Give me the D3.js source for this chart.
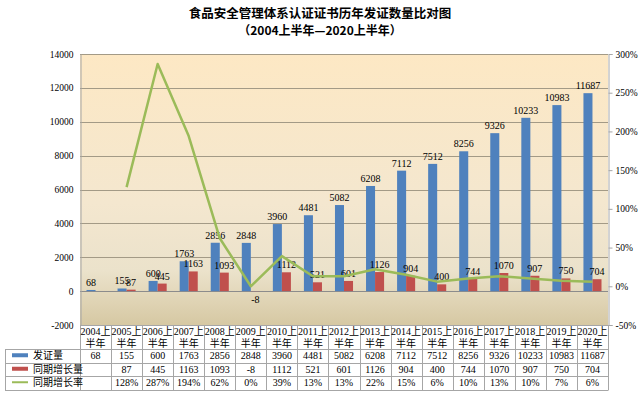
<!DOCTYPE html>
<html>
<head>
<meta charset="utf-8">
<script src="https://cdn.jsdelivr.net/npm/d3@7"></script>
<style>
 body { margin: 0; background: #fff; }
 text { font-family: "Liberation Serif", "Noto Sans CJK SC", serif; fill: #000; }
 .cjk { font-family: "Noto Sans CJK SC", sans-serif; }
</style>
</head>
<body>
<div id="chart"></div>
<script>
const years = ["2004", "2005", "2006", "2007", "2008", "2009", "2010", "2011", "2012",
 "2013", "2014", "2015", "2016", "2017", "2018", "2019", "2020"];
const issued = [68, 155, 600, 1763, 2856, 2848, 3960, 4481, 5082, 6208, 7112, 7512,
 8256, 9326, 10233, 10983, 11687];
const growth = [null, 87, 445, 1163, 1093, -8, 1112, 521, 601, 1126, 904, 400, 744,
 1070, 907, 750, 704];
const growthRate = [null, 128, 287, 194, 62, 0, 39, 13, 13, 22, 15, 6, 10, 13, 10, 7, 6];
const leftTicks = [-2000, 0, 2000, 4000, 6000, 8000, 10000, 12000, 14000];
const rightTicks = [-50, 0, 50, 100, 150, 200, 250, 300];
const seriesNames = ["发证量", "同期增长量", "同期增长率"];

(function () {
 const width = 640;
 const height = 394;
 const plot = { left: 80, right: 608, top: 54, bottom: 325 };
 const colors = ["#4f81bd", "#c0504d", "#9bbb59"];

 const svg = d3
  .select("#chart")
  .append("svg")
  .attr("width", width)
  .attr("height", height);

 // nền vùng vẽ (gradient kiểu giấy da)
 const grad = svg
  .append("defs")
  .append("linearGradient")
  .attr("id", "bg")
  .attr("x1", "0%").attr("x2", "0%")
  .attr("y1", "0%").attr("y2", "100%");
 [["0%", "#fde8c4"], ["55%", "#f4e7cf"], ["80%", "#ebe2cb"], ["88%", "#e3d8bb"], ["100%", "#d6c8a3"]]
  .forEach(([o, c]) => grad.append("stop").attr("offset", o).attr("stop-color", c));

 svg
  .append("rect")
  .attr("x", plot.left)
  .attr("y", plot.top)
  .attr("width", plot.right - plot.left)
  .attr("height", plot.bottom - plot.top)
  .attr("fill", "url(#bg)");

 const x = d3.scaleBand().domain(years).range([plot.left, plot.right]).padding(0);
 const xSub = d3
  .scaleBand()
  .domain([0, 1])
  .range([0, x.bandwidth()])
  .paddingInner(0)
  .paddingOuter(0.72);
 const y = d3.scaleLinear().domain([-2000, 14000]).range([plot.bottom, plot.top]);
 const y2 = d3.scaleLinear().domain([-50, 300]).range([plot.bottom, plot.top]);

 // lưới
 svg
  .append("g")
  .selectAll("line")
  .data(leftTicks.filter((t) => t > -2000))
  .enter()
  .append("line")
  .attr("x1", plot.left)
  .attr("x2", plot.right)
  .attr("y1", (d) => Math.round(y(d)) + 0.5)
  .attr("y2", (d) => Math.round(y(d)) + 0.5)
  .attr("stroke", (d) => (d === 0 ? "#8c8c8c" : "#a39a86"))
  .attr("stroke-width", 1);

 // trục trái
 const yAxis = svg
  .append("g")
  .attr("transform", `translate(${plot.left + 0.5},0)`)
  .call(
   d3.axisLeft(y).tickValues(leftTicks).tickSize(0).tickPadding(7).tickFormat((d) => String(d))
  );
 yAxis.select(".domain").attr("stroke", "#a6a6a6");
 yAxis.selectAll("text").style("font-size", "9.5px").attr("fill", "#000");

 // trục phải
 const y2Axis = svg
  .append("g")
  .attr("transform", `translate(${plot.right + 0.5},0)`)
  .call(
   d3.axisRight(y2).tickValues(rightTicks).tickSize(4).tickPadding(3).tickFormat((d) => String(d) + "%")
  );
 y2Axis.select(".domain").attr("stroke", "#a6a6a6");
 y2Axis.selectAll(".tick line").attr("stroke", "#a6a6a6");
 y2Axis.selectAll("text").style("font-size", "9.5px").attr("fill", "#000");

 // cột
 const barData = [issued, growth];
 barData.forEach((vals, si) => {
  const g = svg.append("g");
  const items = years.map((c, i) => ({ c, v: vals[i] })).filter((d) => d.v !== null);
  g.selectAll("rect")
   .data(items)
   .enter()
   .append("rect")
   .attr("x", (d) => x(d.c) + xSub(si))
   .attr("width", xSub.bandwidth())
   .attr("y", (d) => Math.min(y(d.v), y(0)))
   .attr("height", (d) => Math.abs(y(d.v) - y(0)))
   .attr("fill", colors[si]);
  g.selectAll("text")
   .data(items)
   .enter()
   .append("text")
   .attr("x", (d) => x(d.c) + xSub(si) + xSub.bandwidth() / 2)
   .attr("y", (d) => (d.v >= 0 ? y(d.v) - 4 : y(d.v) + 12))
   .attr("text-anchor", "middle")
   .style("font-size", "10px")
   .text((d) => d.v);
 });

 // đường tỷ lệ tăng trưởng
 const lineData = years.map((c, i) => ({ c, v: growthRate[i] })).filter((d) => d.v !== null);
 svg
  .append("path")
  .datum(lineData)
  .attr("fill", "none")
  .attr("stroke", colors[2])
  .attr("stroke-width", 2.5)
  .attr("stroke-linejoin", "round")
  .attr(
   "d",
   d3
    .line()
    .x((d) => x(d.c) + x.bandwidth() / 2)
    .y((d) => y2(d.v))
  );

 // tiêu đề
 svg
  .append("text")
  .attr("class", "cjk")
  .attr("x", width / 2)
  .attr("y", 18)
  .attr("text-anchor", "middle")
  .style("font-size", "12.5px")
  .style("font-weight", "bold")
  .text("食品安全管理体系认证证书历年发证数量比对图");
 svg
  .append("text")
  .attr("class", "cjk")
  .attr("x", width / 2)
  .attr("y", 35)
  .attr("text-anchor", "middle")
  .style("font-size", "12px")
  .style("font-weight", "bold")
  .text("（2004上半年—2020上半年）");

 // bảng dữ liệu
 const rowY = [325, 349, 362.5, 376, 389.5];
 const tableLeft = 5;
 const border = "#a6a6a6";
 const table = svg.append("g");

 // đường ngang
 rowY.forEach((ry, i) => {
  table
   .append("line")
   .attr("x1", i < 1 ? plot.left : tableLeft)
   .attr("x2", plot.right)
   .attr("y1", Math.round(ry) + 0.5)
   .attr("y2", Math.round(ry) + 0.5)
   .attr("stroke", border);
 });
 // đường dọc
 const colEdges = years.map((c) => x(c)).concat([plot.right]);
 colEdges.forEach((cx) => {
  table
   .append("line")
   .attr("x1", Math.round(cx) + 0.5)
   .attr("x2", Math.round(cx) + 0.5)
   .attr("y1", rowY[0])
   .attr("y2", Math.round(rowY[4]) + 0.5)
   .attr("stroke", border);
 });
 table
  .append("line")
  .attr("x1", tableLeft + 0.5)
  .attr("x2", tableLeft + 0.5)
  .attr("y1", rowY[1])
  .attr("y2", Math.round(rowY[4]) + 0.5)
  .attr("stroke", border);

 // tiêu đề cột
 years.forEach((c) => {
  const cx = x(c) + x.bandwidth() / 2;
  table
   .append("text")
   .attr("x", cx)
   .attr("y", 335)
   .attr("text-anchor", "middle")
   .style("font-size", "10px")
   .text(c + "上");
  table
   .append("text")
   .attr("x", cx)
   .attr("y", 347)
   .attr("text-anchor", "middle")
   .style("font-size", "10px")
   .text("半年");
 });

 // các hàng
 const rows = [
  issued.map((v) => (v === null ? "" : v)),
  growth.map((v) => (v === null ? "" : v)),
  growthRate.map((v) => (v === null ? "" : v + "%")),
 ];
 rows.forEach((vals, ri) => {
  const cy = (rowY[ri + 1] + rowY[ri + 2]) / 2 + 3.5;
  vals.forEach((v, i) => {
   table
    .append("text")
    .attr("x", x(years[i]) + x.bandwidth() / 2)
    .attr("y", cy)
    .attr("text-anchor", "middle")
    .style("font-size", "10px")
    .text(v);
  });
  // chú giải
  if (ri < 2) {
   table
    .append("rect")
    .attr("x", 12)
    .attr("y", cy - 6)
    .attr("width", 16)
    .attr("height", 4)
    .attr("fill", colors[ri]);
  } else {
   table
    .append("line")
    .attr("x1", 12)
    .attr("x2", 28)
    .attr("y1", cy - 4)
    .attr("y2", cy - 4)
    .attr("stroke", colors[2])
    .attr("stroke-width", 2);
  }
  table
   .append("text")
   .attr("class", "cjk")
   .attr("x", 33)
   .attr("y", cy)
   .style("font-size", "10px")
   .text(seriesNames[ri]);
 });
})();
</script>
</body>
</html>
